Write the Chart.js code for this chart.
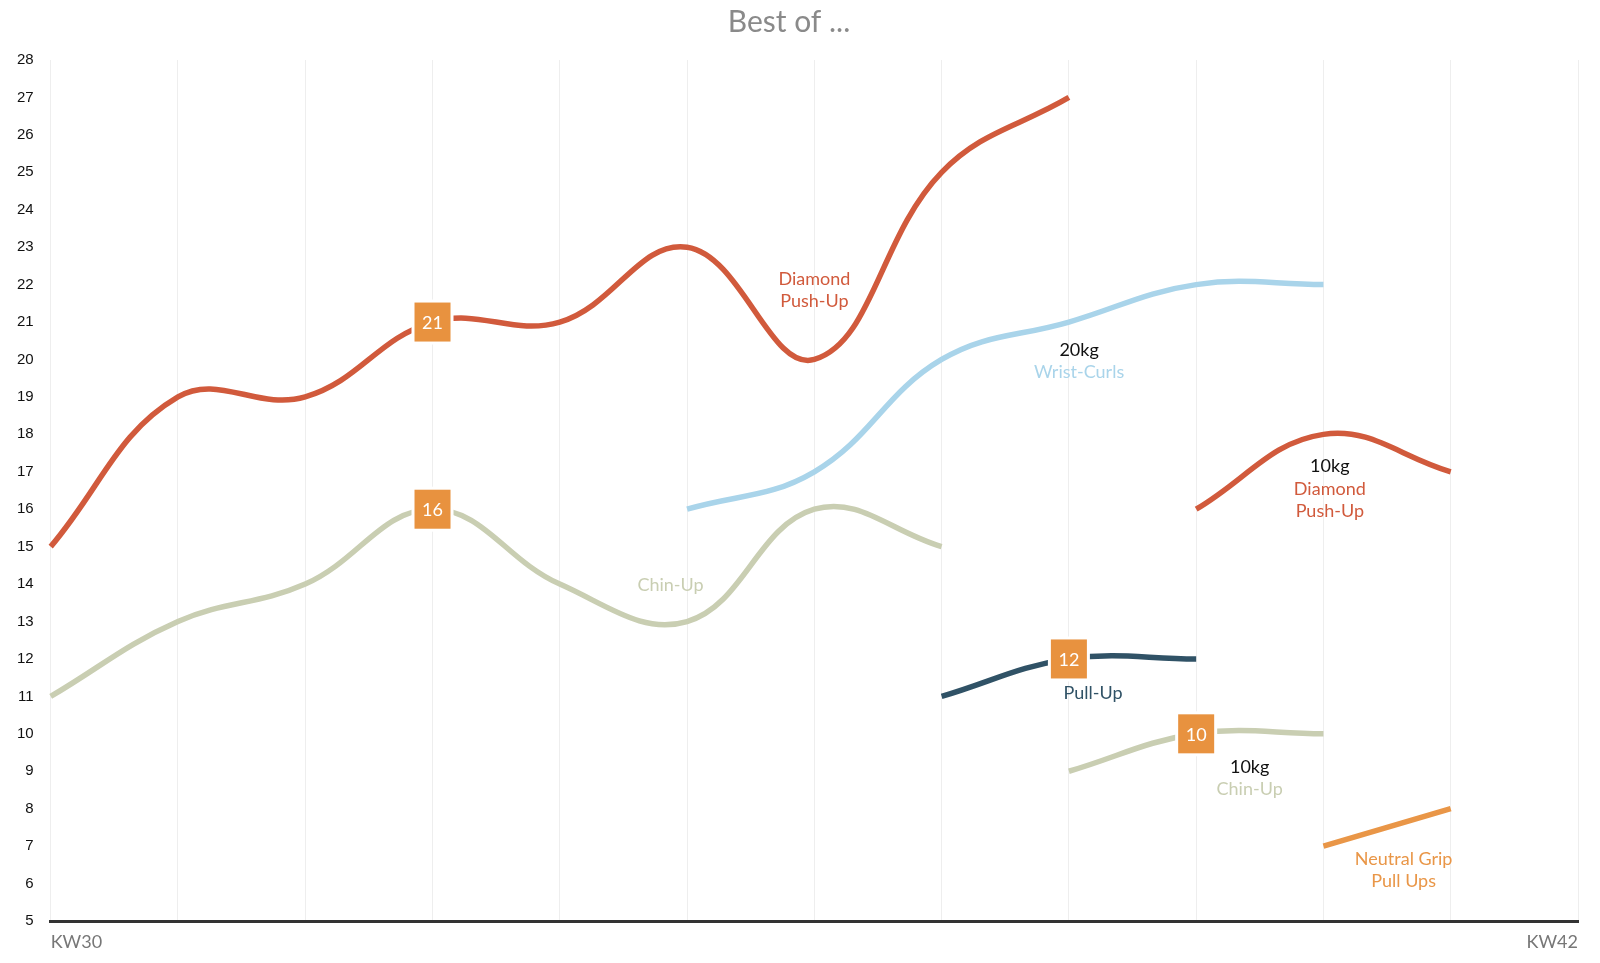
<!DOCTYPE html>
<html>
<head>
<meta charset="utf-8">
<script src="https://cdn.jsdelivr.net/npm/chart.js@4.4.1/dist/chart.umd.min.js"></script>
<style>
  html, body { margin: 0; padding: 0; background: #fff; }
  #wrap { width: 1600px; height: 963px; }
</style>
</head>
<body>
<div id="wrap"><canvas id="bestChart"></canvas></div>
<script>
// weeks on the x axis
const weeks = ['KW30', 'KW31', 'KW32', 'KW33', 'KW34', 'KW35', 'KW36', 'KW37', 'KW38', 'KW39', 'KW40', 'KW41', 'KW42'];

// reps per week, one array per exercise (null = not trained)
const diamondPushUp     = [15, 19, 19, 21, 21, 23, 20, 25, 27, null, null, null, null];
const wristCurls20      = [null, null, null, null, null, 16, 17, 20, 21, 22, 22, null, null];
const diamondPushUp10   = [null, null, null, null, null, null, null, null, null, 16, 18, 17, null];
const chinUp            = [11, 13, 14, 16, 14, 13, 16, 15, null, null, null, null, null];
const pullUp            = [null, null, null, null, null, null, null, 11, 12, 12, null, null, null];
const chinUp10          = [null, null, null, null, null, null, null, null, 9, 10, 10, null, null];
const neutralGripPullUp = [null, null, null, null, null, null, null, null, null, null, 7, 8, null];

// highlighted values: [dataset index, week index]
const badges = [[0, 3], [3, 3], [4, 8], [5, 9]];

const RED = '#d15a3c', BLUE = '#a9d4ea', SAGE = '#c9ceb2', SLATE = '#305266', ORANGE = '#e99647';

// text notes next to the lines: week position, value, lines, colours
const notes = [
    { x: 6,    y: 21.85, lines: ['Diamond', 'Push-Up'], colors: [RED, RED] },
    { x: 8.08, y: 19.95, lines: ['20kg', 'Wrist-Curls'], colors: ['#111', BLUE] },
    { x: 10.05, y: 16.54, lines: ['10kg', 'Diamond', 'Push-Up'], colors: ['#111', RED, RED] },
    { x: 4.87, y: 13.98, lines: ['Chin-Up'], colors: [SAGE] },
    { x: 8.19, y: 11.08, lines: ['Pull-Up'], colors: [SLATE] },
    { x: 9.42, y: 8.82, lines: ['10kg', 'Chin-Up'], colors: ['#111', SAGE] },
    { x: 10.63, y: 6.36, lines: ['Neutral Grip', 'Pull Ups'], colors: [ORANGE, ORANGE] }
];

function line(label, data, color) {
    return {
        label: label,
        data: data,
        borderColor: color,
        backgroundColor: color,
        borderWidth: 5.5,
        pointRadius: 0,
        pointHoverRadius: 0,
        tension: 0.4,
        spanGaps: false,
        fill: false
    };
}

const annotationPlugin = {
    id: 'notesAndBadges',
    afterDatasetsDraw(chart) {
        const ctx = chart.ctx;
        const xs = chart.scales.x, ys = chart.scales.y;

        ctx.save();
        ctx.textAlign = 'center';
        ctx.textBaseline = 'middle';
        ctx.font = '18px Lato';
        notes.forEach(n => {
            const cx = xs.getPixelForValue(n.x);
            const cy = ys.getPixelForValue(n.y);
            const lh = 22.5;
            const top = cy - (n.lines.length - 1) * lh / 2;
            n.lines.forEach((t, i) => {
                ctx.fillStyle = n.colors[i];
                ctx.fillText(t, cx, top + i * lh);
            });
        });

        badges.forEach(([ds, idx]) => {
            const meta = chart.getDatasetMeta(ds);
            const pt = meta.data[idx];
            const val = chart.data.datasets[ds].data[idx];
            const w = 36, h = 39;
            ctx.fillStyle = '#fff';
            ctx.fillRect(pt.x - w / 2 - 3, pt.y - h / 2 - 3, w + 6, h + 6);
            ctx.fillStyle = '#e8923f';
            ctx.fillRect(pt.x - w / 2, pt.y - h / 2, w, h);
            ctx.fillStyle = '#fff';
            ctx.font = '18px Lato';
            ctx.fillText(String(val), pt.x, pt.y + 1);
        });
        ctx.restore();
    }
};

document.addEventListener('DOMContentLoaded', () => {
    const ctx = document.getElementById('bestChart').getContext('2d');
    new Chart(ctx, {
        type: 'line',
        data: {
            labels: weeks,
            datasets: [
                line('Diamond Push-Up', diamondPushUp, RED),
                line('20kg Wrist-Curls', wristCurls20, BLUE),
                line('10kg Diamond Push-Up', diamondPushUp10, RED),
                line('Chin-Up', chinUp, SAGE),
                line('Pull-Up', pullUp, SLATE),
                line('10kg Chin-Up', chinUp10, SAGE),
                line('Neutral Grip Pull Ups', neutralGripPullUp, ORANGE)
            ]
        },
        options: {
            responsive: true,
            maintainAspectRatio: false,
            animation: false,
            layout: { padding: { left: 0, right: 22, top: 4, bottom: 0 } },
            plugins: {
                legend: { display: false },
                tooltip: { enabled: false },
                title: {
                    display: true,
                    text: 'Best of ...',
                    color: '#8a8a8a',
                    font: { family: 'Lato', size: 30, weight: 'normal' },
                    padding: { top: 0, bottom: 20 }
                }
            },
            scales: {
                x: {
                    offset: false,
                    grid: { color: '#eeeeee', lineWidth: 1, drawTicks: false },
                    border: { display: true, color: '#333333', width: 3 },
                    ticks: {
                        autoSkip: false,
                        maxRotation: 0,
                        align: 'inner',
                        padding: 12,
                        color: '#777777',
                        font: { family: 'Lato', size: 18, lineHeight: 1.0 },
                        callback: function (v, i, all) {
                            return (i === 0 || i === all.length - 1) ? this.getLabelForValue(v) : '';
                        }
                    }
                },
                y: {
                    min: 5,
                    max: 28,
                    grid: { display: false, drawTicks: false },
                    border: { display: false },
                    ticks: {
                        stepSize: 1,
                        padding: 17,
                        color: '#111111',
                        font: { family: 'Liberation Sans', size: 15 }
                    }
                }
            }
        },
        plugins: [annotationPlugin]
    });
});
</script>
</body>
</html>
